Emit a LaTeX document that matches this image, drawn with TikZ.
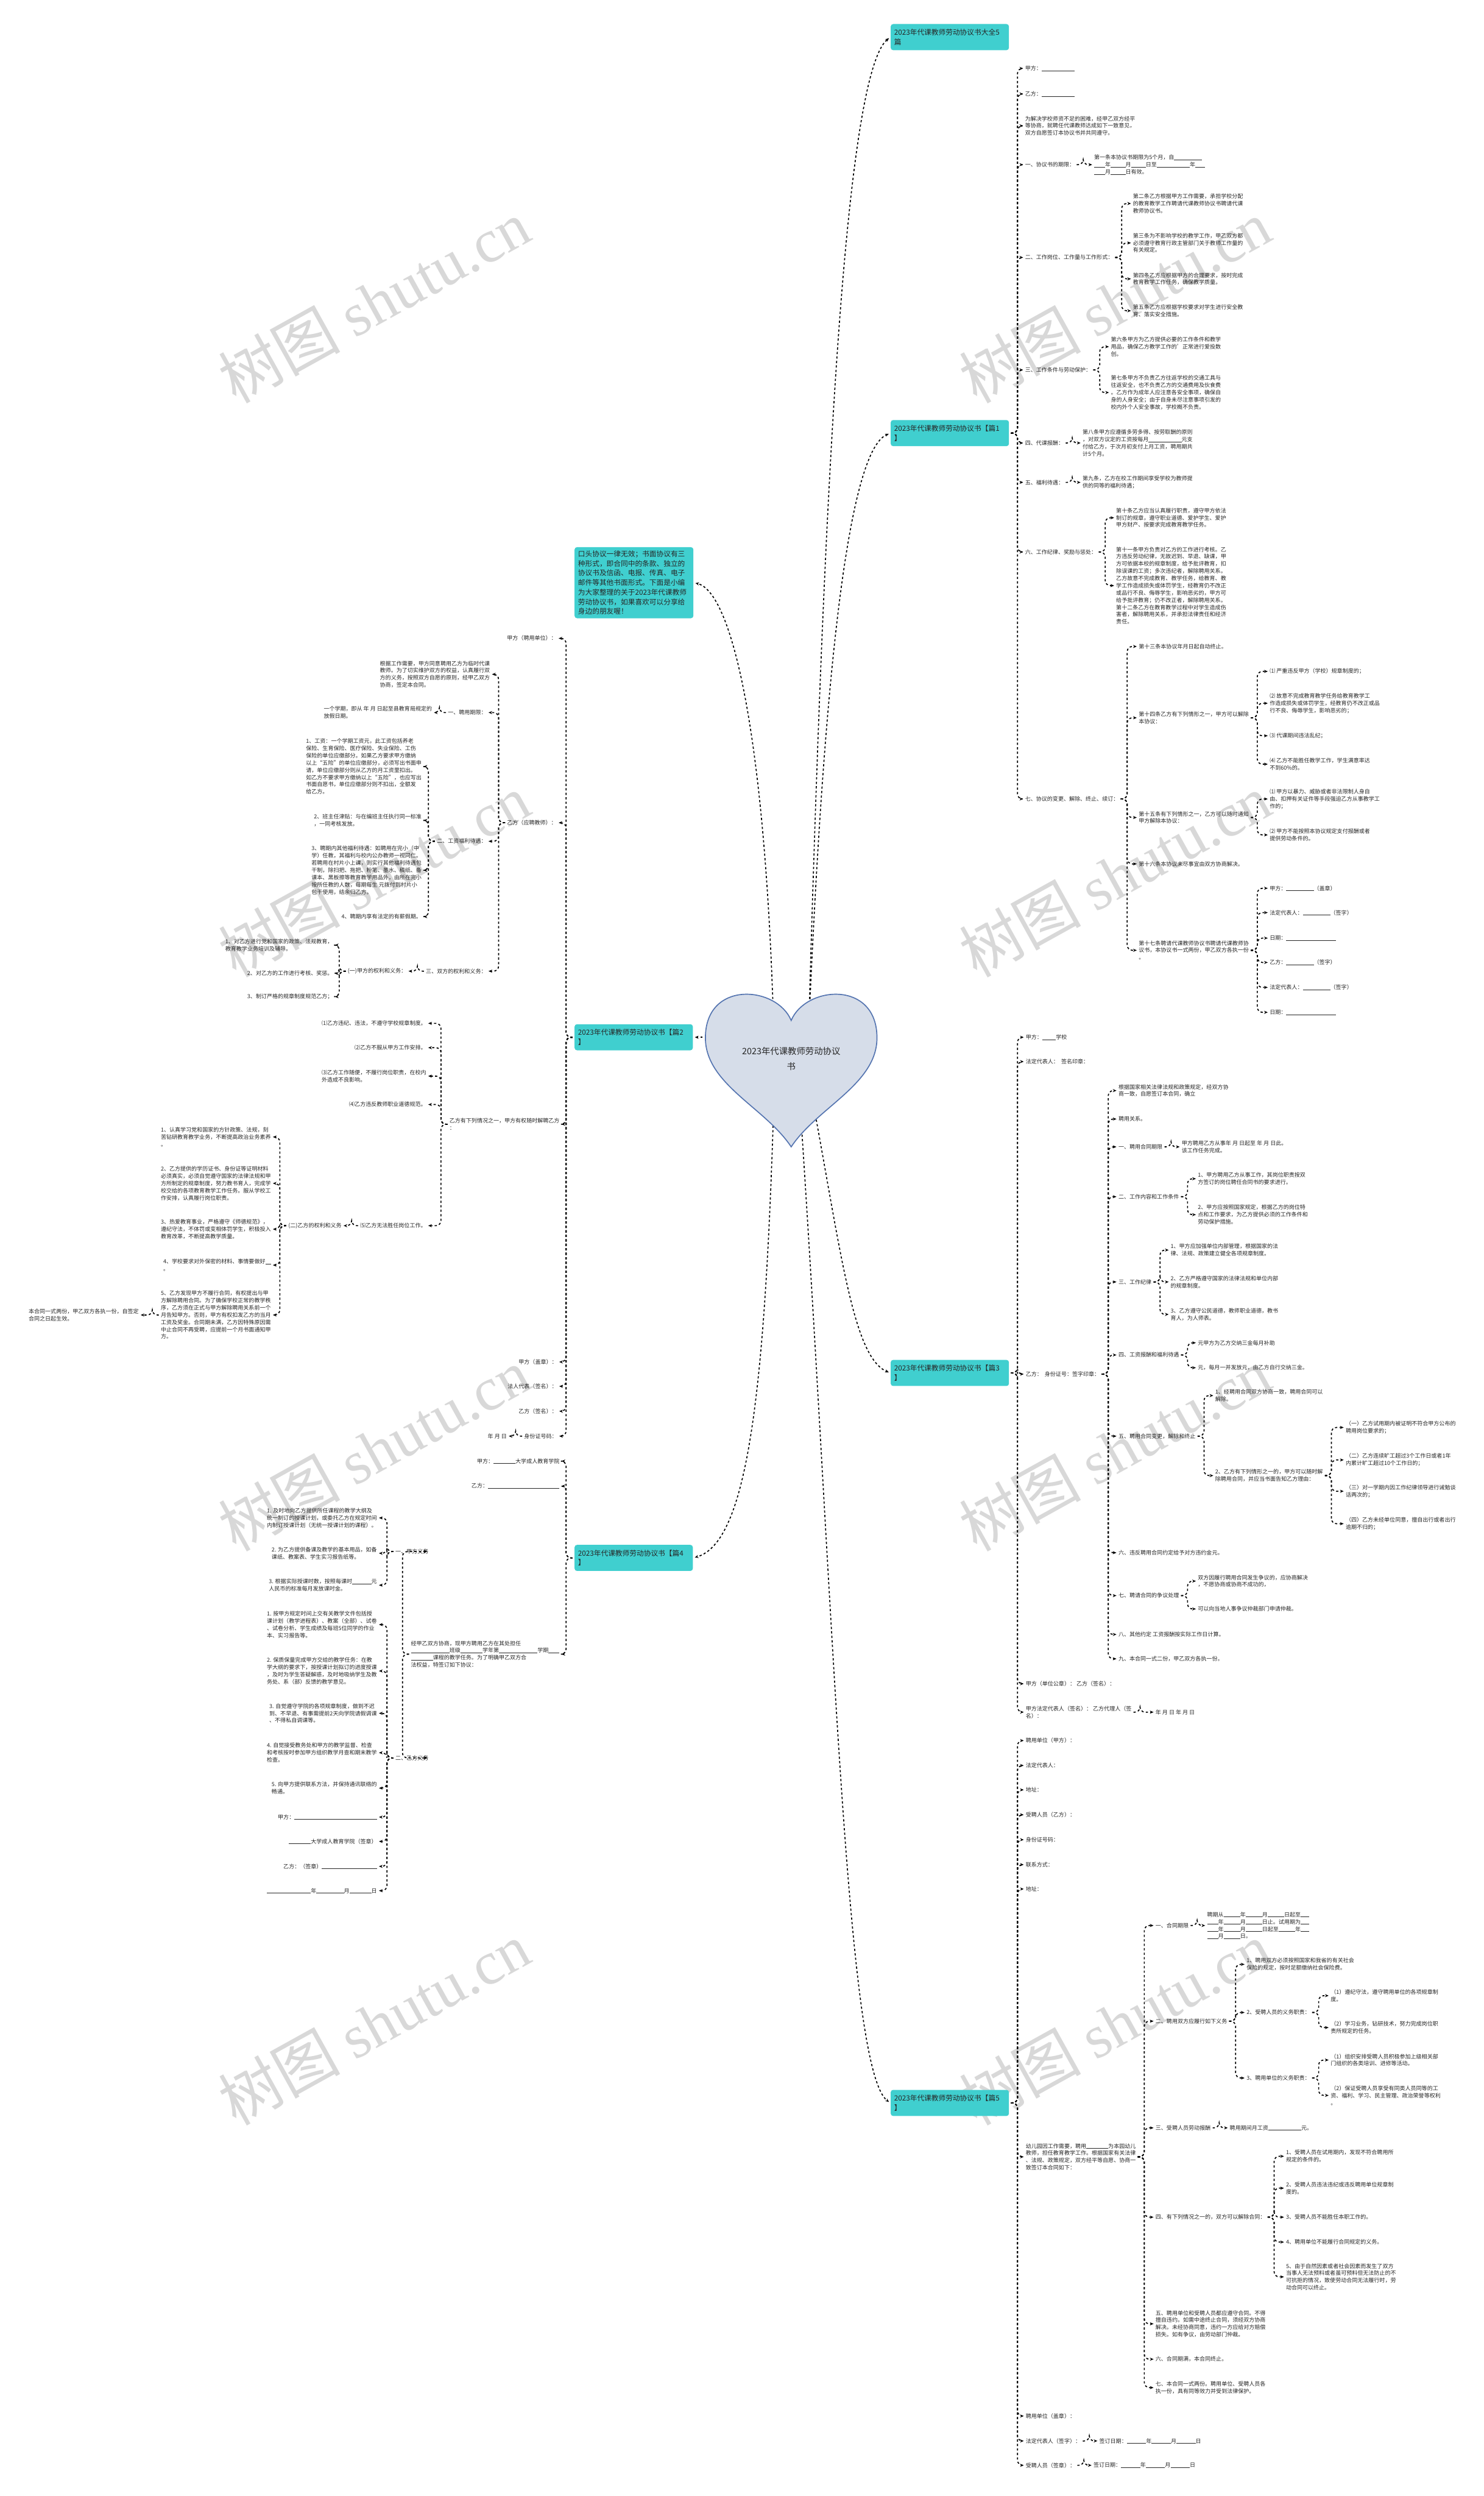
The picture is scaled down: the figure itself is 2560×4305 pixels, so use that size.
\documentclass[tikz,border=0pt]{standalone}
\usepackage{fontspec}
\setmainfont{Noto Sans CJK SC}
\newfontfamily\markfont{Liberation Serif}
\usepackage{tikz}
\usetikzlibrary{arrows.meta}

\definecolor{tealbox}{RGB}{64,207,207}
\definecolor{heartfill}{RGB}{214,221,233}
\definecolor{heartline}{RGB}{84,116,176}
\definecolor{inkdark}{RGB}{38,38,38}
\definecolor{markgray}{RGB}{216,216,216}

\newcommand{\tinyfs}{\fontsize{2.7pt}{3.55pt}\selectfont}
\newcommand{\boxfs}{\fontsize{3.5pt}{4.7pt}\selectfont}
\newcommand{\heartfs}{\fontsize{4.3pt}{7.6pt}\selectfont}
\newcommand{\markfs}{\fontsize{30pt}{30pt}\selectfont}
\newcommand{\blank}[1]{\rule[-0.1em]{#1em}{0.25pt}}

\begin{document}
\begin{tikzpicture}[x=0.1mm, y=-0.1mm,
  sect/.style={rectangle, rounded corners=1.2pt, fill=tealbox, text=inkdark, font=\boxfs,
               align=left, text width=19.2mm, minimum height=4.5mm, inner xsep=0.6mm, inner ysep=0.6mm},
  txt/.style={font=\tinyfs, text=inkdark, align=left, inner xsep=0pt, inner ysep=0.4pt},
  heartlbl/.style={font=\heartfs, text=inkdark, align=center},
  wmark/.style={font=\markfs, text=markgray, rotate=29},
  link/.style={-{Stealth[length=1.8pt, width=1.5pt]}, black, line width=0.5pt,
               dash pattern=on 1.1pt off 1.1pt, rounded corners=2.5pt,
               shorten <=0.8pt, shorten >=0.8pt},
  tor/.style={link, to path={-- ++(14,0) |- (\tikztotarget)}},
  tol/.style={link, to path={-- ++(-14,0) |- (\tikztotarget)}},
]
\fill[white] (0,0) rectangle (2560,4305);
\useasboundingbox (0,0) rectangle (2560,4305);

\node[wmark] at (645,520)   {树图 {\markfont shutu.cn}};
\node[wmark] at (1923,520)  {树图 {\markfont shutu.cn}};
\node[wmark] at (645,1510)  {树图 {\markfont shutu.cn}};
\node[wmark] at (1923,1510) {树图 {\markfont shutu.cn}};
\node[wmark] at (645,2500)  {树图 {\markfont shutu.cn}};
\node[wmark] at (1923,2500) {树图 {\markfont shutu.cn}};
\node[wmark] at (645,3490)  {树图 {\markfont shutu.cn}};
\node[wmark] at (1923,3490) {树图 {\markfont shutu.cn}};

\node[sect, anchor=west] (top)  at (1536,64)   {2023年代课教师劳动协议书大全5\\篇};
\node[sect, anchor=west] (art1) at (1536,747)  {2023年代课教师劳动协议书【篇1\\】};
\node[sect, anchor=west] (art3) at (1536,2368) {2023年代课教师劳动协议书【篇3\\】};
\node[sect, anchor=west] (art5) at (1536,3627) {2023年代课教师劳动协议书【篇5\\】};
\node[sect, anchor=east, text width=19.3mm] (intro) at (1197,1005)
  {口头协议一律无效；书面协议有三\\种形式，即合同中的条款、独立的\\协议书及信函、电报、传真、电子\\邮件等其他书面形式。下面是小编\\为大家整理的关于2023年代课教师\\劳动协议书，如果喜欢可以分享给\\身边的朋友喔！};
\node[sect, anchor=east] (art2) at (1196,1789) {2023年代课教师劳动协议书【篇2\\】};
\node[sect, anchor=east] (art4) at (1196,2687) {2023年代课教师劳动协议书【篇4\\】};

\draw[link] (1395,1780) .. controls (1420,900) and (1455,130) .. (top.west);
\draw[link] (1395,1780) .. controls (1420,1200) and (1460,780) .. (art1.west);
\draw[link] (1395,1860) .. controls (1450,2150) and (1470,2340) .. (art3.west);
\draw[link] (1380,1900) .. controls (1440,2800) and (1460,3570) .. (art5.west);
\draw[link] (1335,1780) .. controls (1320,1250) and (1260,1020) .. (intro.east);
\draw[link] (1300,1789) -- (art2.east);
\draw[link] (1335,1900) .. controls (1320,2400) and (1290,2660) .. (art4.east);

\draw[fill=heartfill, draw=heartline, line width=0.5pt]
  (1365,1760) .. controls (1390,1700) and (1513,1690) .. (1513,1790)
  .. controls (1513,1870) and (1410,1910) .. (1365,1978)
  .. controls (1320,1910) and (1217,1870) .. (1217,1790)
  .. controls (1217,1690) and (1340,1700) .. (1365,1760) -- cycle;
\node[heartlbl] (root) at (1365,1826) {2023年代课教师劳动协议\\书};

\node[txt, anchor=west] (a1)  at (1768,118) {甲方：\blank{6}};
\node[txt, anchor=west] (a2)  at (1768,162) {乙方：\blank{6}};
\node[txt, anchor=west] (a3)  at (1768,217) {为解决学校师资不足的困难，经甲乙双方经平\\等协商，就聘任代课教师达成如下一致意见，\\双方自愿签订本协议书并共同遵守。};
\node[txt, anchor=west] (a4)  at (1768,284) {一、协议书的期限：};
\node[txt, anchor=west] (a4a) at (1887,284) {第一条本协议书期限为5个月，自\blank{5}\\\blank{2}年\blank{2.7}月\blank{2.7}日至\blank{6}年\blank{1.8}\\\blank{2}月\blank{2.7}日有效。};
\node[txt, anchor=west] (a5)  at (1768,444) {二、工作岗位、工作量与工作形式：};
\node[txt, anchor=west] (a5a) at (1954,351) {第二条乙方根据甲方工作需要，承担学校分配\\的教育教学工作聘请代课教师协议书聘请代课\\教师协议书。};
\node[txt, anchor=west] (a5b) at (1954,419) {第三条为不影响学校的教学工作，甲乙双方都\\必须遵守教育行政主管部门关于教师工作量的\\有关规定。};
\node[txt, anchor=west] (a5c) at (1954,481) {第四条乙方应根据甲方的合理要求，按时完成\\教育教学工作任务，确保教学质量。};
\node[txt, anchor=west] (a5d) at (1954,536) {第五条乙方应根据学校要求对学生进行安全教\\育、落实安全措施。};
\node[txt, anchor=west] (a6)  at (1768,638) {三、工作条件与劳动保护：};
\node[txt, anchor=west] (a6a) at (1916,598) {第六条甲方为乙方提供必要的工作条件和教学\\用品，确保乙方教学工作的'正常进行爱投数\\创。};
\node[txt, anchor=west] (a6b) at (1916,677) {第七条甲方不负责乙方往返学校的交通工具与\\往返安全，也不负责乙方的交通费用及伙食费\\。乙方作为成年人应注意各安全事项，确保自\\身的人身安全；由于自身未尽注意事项引发的\\校内外个人安全事故，学校概不负责。};
\node[txt, anchor=west] (a7)  at (1768,764) {四、代课报酬：};
\node[txt, anchor=west] (a7a) at (1867,764) {第八条甲方应遵循多劳多得、按劳取酬的原则\\，对双方议定的工资按每月\blank{6}元支\\付给乙方，于次月初支付上月工资，聘用期共\\计5个月。};
\node[txt, anchor=west] (a8)  at (1768,832) {五、福利待遇：};
\node[txt, anchor=west] (a8a) at (1867,832) {第九条，乙方在校工作期间享受学校为教师提\\供的同等的福利待遇；};
\node[txt, anchor=west] (a9)  at (1768,952) {六、工作纪律、奖励与惩处：};
\node[txt, anchor=west] (a9a) at (1925,893) {第十条乙方应当认真履行职责，遵守甲方依法\\制订的规章，遵守职业道德、爱护学生、爱护\\甲方财产、按要求完成教育教学任务。};
\node[txt, anchor=west] (a9b) at (1925,1010) {第十一条甲方负责对乙方的工作进行考核。乙\\方违反劳动纪律，无故迟到、早退、缺课，甲\\方可依据本校的规章制度，给予批评教育，扣\\除误课的工资；多次违纪者，解除聘用关系。\\乙方故意不完成教育、教学任务，给教育、教\\学工作造成损失或体罚学生，经教育仍不改正\\或品行不良、侮辱学生，影响恶劣的，甲方可\\给予批评教育；仍不改正者，解除聘用关系。\\第十二条乙方在教育教学过程中对学生造成伤\\害者，解除聘用关系，并承担法律责任和经济\\责任。};
\node[txt, anchor=west] (a10) at (1768,1378) {七、协议的变更、解除、终止、续订：};
\node[txt, anchor=west] (b1)  at (1964,1115) {第十三条本协议年月日起自动终止。};
\node[txt, anchor=west] (b2)  at (1964,1238) {第十四条乙方有下列情形之一，甲方可以解除\\本协议：};
\node[txt, anchor=west] (c1)  at (2190,1158) {⑴ 严重违反甲方（学校）规章制度的；};
\node[txt, anchor=west] (c2)  at (2190,1213) {⑵ 故意不完成教育教学任务给教育教学工\\作造成损失或体罚学生，经教育仍不改正或品\\行不良、侮辱学生，影响恶劣的；};
\node[txt, anchor=west] (c3)  at (2190,1269) {⑶ 代课期间违法乱纪；};
\node[txt, anchor=west] (c4)  at (2190,1318) {⑷ 乙方不能胜任教学工作，学生满意率达\\不到60\%的。};
\node[txt, anchor=west] (b3)  at (1964,1410) {第十五条有下列情形之一，乙方可以随时通知\\甲方解除本协议：};
\node[txt, anchor=west] (c5)  at (2190,1378) {⑴ 甲方以暴力、威胁或者非法限制人身自\\由、扣押有关证件等手段强迫乙方从事教学工\\作的；};
\node[txt, anchor=west] (c6)  at (2190,1440) {⑵ 甲方不能按照本协议规定支付报酬或者\\提供劳动条件的。};
\node[txt, anchor=west] (b4)  at (1964,1490) {第十六条本协议未尽事宜由双方协商解决。};
\node[txt, anchor=west] (b5)  at (1964,1639) {第十七条聘请代课教师协议书聘请代课教师协\\议书，本协议书一式两份，甲乙双方各执一份\\。};
\node[txt, anchor=west] (d1)  at (2190,1532) {甲方：\blank{5}（盖章）};
\node[txt, anchor=west] (d2)  at (2190,1574) {法定代表人：\blank{5}（签字）};
\node[txt, anchor=west] (d3)  at (2190,1618) {日期：\blank{9}};
\node[txt, anchor=west] (d4)  at (2190,1660) {乙方：\blank{5}（签字）};
\node[txt, anchor=west] (d5)  at (2190,1703) {法定代表人：\blank{5}（签字）};
\node[txt, anchor=west] (d6)  at (2190,1746) {日期：\blank{9}};

\draw[tor] (art1.east) to (a1.west);
\draw[tor] (art1.east) to (a2.west);
\draw[tor] (art1.east) to (a3.west);
\draw[tor] (art1.east) to (a4.west);
\draw[tor] (art1.east) to (a5.west);
\draw[tor] (art1.east) to (a6.west);
\draw[tor] (art1.east) to (a7.west);
\draw[tor] (art1.east) to (a8.west);
\draw[tor] (art1.east) to (a9.west);
\draw[tor] (art1.east) to (a10.west);
\draw[tor] (a4.east) to (a4a.west);
\draw[tor] (a5.east) to (a5a.west);
\draw[tor] (a5.east) to (a5b.west);
\draw[tor] (a5.east) to (a5c.west);
\draw[tor] (a5.east) to (a5d.west);
\draw[tor] (a6.east) to (a6a.west);
\draw[tor] (a6.east) to (a6b.west);
\draw[tor] (a7.east) to (a7a.west);
\draw[tor] (a8.east) to (a8a.west);
\draw[tor] (a9.east) to (a9a.west);
\draw[tor] (a9.east) to (a9b.west);
\draw[tor] (a10.east) to (b1.west);
\draw[tor] (a10.east) to (b2.west);
\draw[tor] (a10.east) to (b3.west);
\draw[tor] (a10.east) to (b4.west);
\draw[tor] (a10.east) to (b5.west);
\draw[tor] (b2.east) to (c1.west);
\draw[tor] (b2.east) to (c2.west);
\draw[tor] (b2.east) to (c3.west);
\draw[tor] (b2.east) to (c4.west);
\draw[tor] (b3.east) to (c5.west);
\draw[tor] (b3.east) to (c6.west);
\draw[tor] (b5.east) to (d1.west);
\draw[tor] (b5.east) to (d2.west);
\draw[tor] (b5.east) to (d3.west);
\draw[tor] (b5.east) to (d4.west);
\draw[tor] (b5.east) to (d5.west);
\draw[tor] (b5.east) to (d6.west);

\node[txt, anchor=west] (e1)  at (1769,1789) {甲方：\blank{2.5}学校};
\node[txt, anchor=west] (e2)  at (1769,1831) {法定代表人：\ \ 签名印章：};
\node[txt, anchor=west] (e3)  at (1769,2370) {乙方：\ \ 身份证号：签字印章：};
\node[txt, anchor=west] (f1)  at (1929,1881) {根据国家相关法律法规和政策规定，经双方协\\商一致，自愿签订本合同，确立};
\node[txt, anchor=west] (f2)  at (1929,1930) {聘用关系。};
\node[txt, anchor=west] (f3)  at (1929,1978) {一、聘用合同期限};
\node[txt, anchor=west] (f3a) at (2038,1978) {甲方聘用乙方从事年\ 月\ 日起至\ 年\ 月\ 日此。\\该工作任务完成。};
\node[txt, anchor=west] (f4)  at (1929,2064) {二、工作内容和工作条件};
\node[txt, anchor=west] (f4a) at (2066,2033) {1、甲方聘用乙方从事工作，其岗位职责按双\\方签订的岗位聘任合同书的要求进行。};
\node[txt, anchor=west] (f4b) at (2066,2095) {2、甲方应按照国家规定，根据乙方的岗位特\\点和工作要求，为乙方提供必须的工作条件和\\劳动保护措施。};
\node[txt, anchor=west] (f5)  at (1929,2211) {三、工作纪律};
\node[txt, anchor=west] (f5a) at (2019,2156) {1、甲方应加强单位内部管理，根据国家的法\\律、法规、政策建立健全各项规章制度。};
\node[txt, anchor=west] (f5b) at (2019,2211) {2、乙方严格遵守国家的法律法规和单位内部\\的规章制度。};
\node[txt, anchor=west] (f5c) at (2019,2267) {3、乙方遵守公民道德，教师职业道德，教书\\育人，为人师表。};
\node[txt, anchor=west] (f6)  at (1929,2337) {四、工资报酬和福利待遇};
\node[txt, anchor=west] (f6a) at (2066,2316) {元甲方为乙方交纳三金每月补助};
\node[txt, anchor=west] (f6b) at (2066,2359) {元，每月一并发放元，由乙方自行交纳三金。};
\node[txt, anchor=west] (f7)  at (1929,2477) {五、聘用合同变更，解除和终止};
\node[txt, anchor=west] (f7a) at (2096,2407) {1、经聘用合同双方协商一致，聘用合同可以\\解除。};
\node[txt, anchor=west] (f7b) at (2096,2545) {2、乙方有下列情形之一的，甲方可以随时解\\除聘用合同，并应当书面告知乙方理由：};
\node[txt, anchor=west] (g1)  at (2321,2462) {（一）乙方试用期内被证明不符合甲方公布的\\聘用岗位要求的；};
\node[txt, anchor=west] (g2)  at (2321,2518) {（二）乙方连续旷工超过3个工作日或者1年\\内累计旷工超过10个工作日的；};
\node[txt, anchor=west] (g3)  at (2321,2572) {（三）对一学期内因工作纪律领导进行诫勉谈\\话两次的；};
\node[txt, anchor=west] (g4)  at (2321,2628) {（四）乙方未经单位同意，擅自出行或者出行\\逾期不归的；};
\node[txt, anchor=west] (f8)  at (1929,2678) {六、违反聘用合同约定给予对方违约金元。};
\node[txt, anchor=west] (f9)  at (1929,2752) {七、聘请合同的争议处理};
\node[txt, anchor=west] (f9a) at (2066,2727) {双方因履行聘用合同发生争议的，应协商解决\\，不愿协商或协商不成功的，};
\node[txt, anchor=west] (f9b) at (2066,2775) {可以向当地人事争议仲裁部门申请仲裁。};
\node[txt, anchor=west] (f10) at (1929,2819) {八、其他约定 工资报酬按实际工作日计算。};
\node[txt, anchor=west] (f11) at (1929,2861) {九、本合同一式二份，甲乙双方各执一份。};
\node[txt, anchor=west] (e4)  at (1769,2904) {甲方（单位公章）： 乙方（签名）：};
\node[txt, anchor=west] (e5)  at (1769,2953) {甲方法定代表人（签名）： 乙方代理人（签\\名）：};
\node[txt, anchor=west] (e5a) at (1993,2953) {年\ 月\ 日\ 年\ 月\ 日};

\draw[tor] (art3.east) to (e1.west);
\draw[tor] (art3.east) to (e2.west);
\draw[tor] (art3.east) to (e3.west);
\draw[tor] (art3.east) to (e4.west);
\draw[tor] (art3.east) to (e5.west);
\draw[tor] (e3.east) to (f1.west);
\draw[tor] (e3.east) to (f2.west);
\draw[tor] (e3.east) to (f3.west);
\draw[tor] (e3.east) to (f4.west);
\draw[tor] (e3.east) to (f5.west);
\draw[tor] (e3.east) to (f6.west);
\draw[tor] (e3.east) to (f7.west);
\draw[tor] (e3.east) to (f8.west);
\draw[tor] (e3.east) to (f9.west);
\draw[tor] (e3.east) to (f10.west);
\draw[tor] (e3.east) to (f11.west);
\draw[tor] (f3.east) to (f3a.west);
\draw[tor] (f4.east) to (f4a.west);
\draw[tor] (f4.east) to (f4b.west);
\draw[tor] (f5.east) to (f5a.west);
\draw[tor] (f5.east) to (f5b.west);
\draw[tor] (f5.east) to (f5c.west);
\draw[tor] (f6.east) to (f6a.west);
\draw[tor] (f6.east) to (f6b.west);
\draw[tor] (f7.east) to (f7a.west);
\draw[tor] (f7.east) to (f7b.west);
\draw[tor] (f7b.east) to (g1.west);
\draw[tor] (f7b.east) to (g2.west);
\draw[tor] (f7b.east) to (g3.west);
\draw[tor] (f7b.east) to (g4.west);
\draw[tor] (f9.east) to (f9a.west);
\draw[tor] (f9.east) to (f9b.west);
\draw[tor] (e5.east) to (e5a.west);

\node[txt, anchor=west] (h1)  at (1769,3002) {聘用单位（甲方）：};
\node[txt, anchor=west] (h2)  at (1769,3045) {法定代表人：};
\node[txt, anchor=west] (h3)  at (1769,3087) {地址：};
\node[txt, anchor=west] (h4)  at (1769,3130) {受聘人员（乙方）：};
\node[txt, anchor=west] (h5)  at (1769,3173) {身份证号码：};
\node[txt, anchor=west] (h6)  at (1769,3216) {联系方式：};
\node[txt, anchor=west] (h7)  at (1769,3258) {地址：};
\node[txt, anchor=west] (h8)  at (1769,3720) {幼儿园因工作需要，聘用\blank{4}为本园幼儿\\教师，担任教育教学工作。根据国家有关法律\\、法规、政策规定，双方经平等自愿、协商一\\致签订本合同如下：};
\node[txt, anchor=west] (i1)  at (1993,3321) {一、合同期限};
\node[txt, anchor=west] (i1a) at (2082,3321) {聘期从\blank{3}年\blank{3}月\blank{3}日起至\blank{1.5}\\\blank{2}年\blank{3}月\blank{3}日止。试用期为\blank{1.5}\\\blank{2}年\blank{3}月\blank{3}日起至\blank{3}年\blank{1.5}\\\blank{2}月\blank{3}日。};
\node[txt, anchor=west] (i2)  at (1993,3486) {二、聘用双方应履行如下义务};
\node[txt, anchor=west] (i2a) at (2150,3388) {1、聘用双方必须按照国家和我省的有关社会\\保险的规定，按时足额缴纳社会保险费。};
\node[txt, anchor=west] (i2b) at (2150,3471) {2、受聘人员的义务职责：};
\node[txt, anchor=west] (j1)  at (2295,3442) {（1）遵纪守法，遵守聘用单位的各项规章制\\度。};
\node[txt, anchor=west] (j2)  at (2295,3497) {（2）学习业务，钻研技术，努力完成岗位职\\责所规定的任务。};
\node[txt, anchor=west] (i2c) at (2150,3584) {3、聘用单位的义务职责：};
\node[txt, anchor=west] (j3)  at (2295,3553) {（1）组织安排受聘人员积极参加上级相关部\\门组织的各类培训、进修等活动。};
\node[txt, anchor=west] (j4)  at (2295,3614) {（2）保证受聘人员享受有同类人员同等的工\\资、福利、学习、民主管理、政治荣誉等权利\\。};
\node[txt, anchor=west] (i3)  at (1993,3670) {三、受聘人员劳动报酬};
\node[txt, anchor=west] (i3a) at (2121,3670) {聘用期间月工资\blank{6}元。};
\node[txt, anchor=west] (i4)  at (1993,3824) {四、有下列情况之一的，双方可以解除合同：};
\node[txt, anchor=west] (k1)  at (2218,3719) {1、受聘人员在试用期内，发现不符合聘用所\\规定的条件的。};
\node[txt, anchor=west] (k2)  at (2218,3774) {2、受聘人员违法违纪或违反聘用单位规章制\\度的。};
\node[txt, anchor=west] (k3)  at (2218,3824) {3、受聘人员不能胜任本职工作的。};
\node[txt, anchor=west] (k4)  at (2218,3867) {4、聘用单位不能履行合同规定的义务。};
\node[txt, anchor=west] (k5)  at (2218,3927) {5、由于自然因素或者社会因素而发生了双方\\当事人无法预料或者虽可预料但无法防止的不\\可抗拒的情况，致使劳动合同无法履行时，劳\\动合同可以终止。};
\node[txt, anchor=west] (i5)  at (1993,4008) {五、聘用单位和受聘人员都应遵守合同。不得\\擅自违约。如需中途终止合同，须经双方协商\\解决。未经协商同意，违约一方应给对方赔偿\\损失。如有争议，由劳动部门仲裁。};
\node[txt, anchor=west] (i6)  at (1993,4069) {六、合同期满，本合同终止。};
\node[txt, anchor=west] (i7)  at (1993,4118) {七、本合同一式两份。聘用单位、受聘人员各\\执一份，具有同等效力并受到法律保护。};
\node[txt, anchor=west] (h9)  at (1769,4167) {聘用单位（盖章）：};
\node[txt, anchor=west] (h10) at (1769,4210) {法定代表人（签字）：};
\node[txt, anchor=west] (h10a) at (1896,4210) {签订日期：\blank{3.5}年\blank{3.5}月\blank{3.5}日};
\node[txt, anchor=west] (h11) at (1769,4252) {受聘人员（签章）：};
\node[txt, anchor=west] (h11a) at (1886,4252) {签订日期：\blank{3.5}年\blank{3.5}月\blank{3.5}日};

\draw[tor] (art5.east) to (h1.west);
\draw[tor] (art5.east) to (h2.west);
\draw[tor] (art5.east) to (h3.west);
\draw[tor] (art5.east) to (h4.west);
\draw[tor] (art5.east) to (h5.west);
\draw[tor] (art5.east) to (h6.west);
\draw[tor] (art5.east) to (h7.west);
\draw[tor] (art5.east) to (h8.west);
\draw[tor] (art5.east) to (h9.west);
\draw[tor] (art5.east) to (h10.west);
\draw[tor] (art5.east) to (h11.west);
\draw[tor] (h8.east) to (i1.west);
\draw[tor] (h8.east) to (i2.west);
\draw[tor] (h8.east) to (i3.west);
\draw[tor] (h8.east) to (i4.west);
\draw[tor] (h8.east) to (i5.west);
\draw[tor] (h8.east) to (i6.west);
\draw[tor] (h8.east) to (i7.west);
\draw[tor] (i1.east) to (i1a.west);
\draw[tor] (i2.east) to (i2a.west);
\draw[tor] (i2.east) to (i2b.west);
\draw[tor] (i2.east) to (i2c.west);
\draw[tor] (i2b.east) to (j1.west);
\draw[tor] (i2b.east) to (j2.west);
\draw[tor] (i2c.east) to (j3.west);
\draw[tor] (i2c.east) to (j4.west);
\draw[tor] (i3.east) to (i3a.west);
\draw[tor] (i4.east) to (k1.west);
\draw[tor] (i4.east) to (k2.west);
\draw[tor] (i4.east) to (k3.west);
\draw[tor] (i4.east) to (k4.west);
\draw[tor] (i4.east) to (k5.west);
\draw[tor] (h10.east) to (h10a.west);
\draw[tor] (h11.east) to (h11a.west);

\node[txt, anchor=east] (m1)  at (961,1101) {甲方（聘用单位）：};
\node[txt, anchor=east] (m2)  at (961,1419) {乙方（应聘教师）：};
\node[txt, anchor=east] (n1)  at (846,1163) {根据工作需要，甲方同意聘用乙方为临时代课\\教师。为了切实维护双方的权益，认真履行双\\方的义务，按照双方自愿的原则，经甲乙双方\\协商，签定本合同。};
\node[txt, anchor=east] (n2)  at (840,1229) {一、聘用期限：};
\node[txt, anchor=east] (n2a) at (746,1229) {一个学期，即从\ 年\ 月\ 日起至县教育局规定的\\放假日期。};
\node[txt, anchor=east] (n3)  at (840,1451) {二、工资福利待遇：};
\node[txt, anchor=east] (n3a) at (728,1322) {1、工资：一个学期工资元，此工资包括养老\\保险、生育保险、医疗保险、失业保险、工伤\\保险的单位应缴部分。如果乙方要求甲方缴纳\\以上“五险”的单位应缴部分，必须写出书面申\\请，单位应缴部分则从乙方的月工资里扣出。\\如乙方不要求甲方缴纳以上“五险”，也应写出\\书面自愿书，单位应缴部分则不扣出，全额发\\给乙方。};
\node[txt, anchor=east] (n3b) at (728,1415) {2、班主任津贴：与在编班主任执行同一标准\\，一同考核发放。};
\node[txt, anchor=east] (n3c) at (728,1501) {3、聘期内其他福利待遇：如聘用在完小（中\\学）任教，其福利与校内公办教师一视同仁。\\若聘用在村片小上课，则实行其他福利待遇包\\干制，除扫把、拖把、粉笔、墨水、稿纸、备\\课本、黑板擦等教育教学用品外，由所在完小\\按所任教的人数，每期每生\ 元拨付到村片小\\包干使用，结余归乙方。};
\node[txt, anchor=east] (n3d) at (728,1581) {4、聘期内享有法定的有薪假期。};
\node[txt, anchor=east] (n4)  at (840,1675) {三、双方的权利和义务：};
\node[txt, anchor=east] (n4a) at (702,1675) {(一)甲方的权利和义务：};
\node[txt, anchor=east] (o1)  at (575,1630) {1、对乙方进行党和国家的政策、法规教育，\\教育教学业务培训及辅导。};
\node[txt, anchor=east] (o2)  at (575,1679) {2、对乙方的工作进行考核、奖惩。};
\node[txt, anchor=east] (o3)  at (575,1719) {3、制订严格的规章制度规范乙方；};
\node[txt, anchor=east] (m3)  at (966,1939) {乙方有下列情况之一，甲方有权随时解聘乙方\\：};
\node[txt, anchor=east] (q1)  at (736,1765) {⑴乙方违纪、违法，不遵守学校规章制度。};
\node[txt, anchor=east] (q2)  at (736,1807) {⑵乙方不服从甲方工作安排。};
\node[txt, anchor=east] (q3)  at (736,1856) {⑶乙方工作随便，不履行岗位职责，在校内\\外造成不良影响。};
\node[txt, anchor=east] (q4)  at (736,1905) {⑷乙方违反教师职业道德规范。};
\node[txt, anchor=east] (q5)  at (736,2114) {⑸乙方无法胜任岗位工作。};
\node[txt, anchor=east] (q5a) at (590,2114) {(二)乙方的权利和义务};
\node[txt, anchor=east] (r1)  at (468,1961) {1、认真学习党和国家的方针政策、法规，刻\\苦钻研教育教学业务，不断提高政治业务素养\\。};
\node[txt, anchor=east] (r2)  at (468,2041) {2、乙方提供的学历证书、身份证等证明材料\\必须真实，必须自觉遵守国家的法律法规和甲\\方所制定的规章制度，努力教书育人，完成学\\校交给的各项教育教学工作任务。服从学校工\\作安排，认真履行岗位职责。};
\node[txt, anchor=east] (r3)  at (468,2120) {3、热爱教育事业，严格遵守《师德规范》，\\遵纪守法，不体罚或变相体罚学生，积极投入\\教育改革，不断提高教学质量。};
\node[txt, anchor=east] (r4)  at (468,2182) {4、学校要求对外保密的材料、事情要做好\blank{1}\\。};
\node[txt, anchor=east] (r5)  at (468,2268) {5、乙方发现甲方不履行合同，有权提出与甲\\方解除聘用合同。为了确保学校正常的教学秩\\序，乙方须在正式与甲方解除聘用关系前一个\\月告知甲方。否则，甲方有权扣发乙方的当月\\工资及奖金。合同期未满，乙方因特殊原因需\\中止合同不再受聘，应提前一个月书面通知甲\\方。};
\node[txt, anchor=east] (r5a) at (240,2268) {本合同一式两份，甲乙双方各执一份，自签定\\合同之日起生效。};
\node[txt, anchor=east] (m4)  at (962,2349) {甲方（盖章）：};
\node[txt, anchor=east] (m5)  at (962,2391) {法人代表（签名）：};
\node[txt, anchor=east] (m6)  at (962,2434) {乙方（签名）：};
\node[txt, anchor=east] (m7)  at (962,2477) {身份证号码：};
\node[txt, anchor=east] (m7a) at (875,2477) {年\ 月\ 日};

\draw[tol] (art2.west) to (m1.east);
\draw[tol] (art2.west) to (m2.east);
\draw[tol] (art2.west) to (m3.east);
\draw[tol] (art2.west) to (m4.east);
\draw[tol] (art2.west) to (m5.east);
\draw[tol] (art2.west) to (m6.east);
\draw[tol] (art2.west) to (m7.east);
\draw[tol] (m2.west) to (n1.east);
\draw[tol] (m2.west) to (n2.east);
\draw[tol] (m2.west) to (n3.east);
\draw[tol] (m2.west) to (n4.east);
\draw[tol] (n2.west) to (n2a.east);
\draw[tol] (n3.west) to (n3a.east);
\draw[tol] (n3.west) to (n3b.east);
\draw[tol] (n3.west) to (n3c.east);
\draw[tol] (n3.west) to (n3d.east);
\draw[tol] (n4.west) to (n4a.east);
\draw[tol] (n4a.west) to (o1.east);
\draw[tol] (n4a.west) to (o2.east);
\draw[tol] (n4a.west) to (o3.east);
\draw[tol] (m3.west) to (q1.east);
\draw[tol] (m3.west) to (q2.east);
\draw[tol] (m3.west) to (q3.east);
\draw[tol] (m3.west) to (q4.east);
\draw[tol] (m3.west) to (q5.east);
\draw[tol] (q5.west) to (q5a.east);
\draw[tol] (q5a.west) to (r1.east);
\draw[tol] (q5a.west) to (r2.east);
\draw[tol] (q5a.west) to (r3.east);
\draw[tol] (q5a.west) to (r4.east);
\draw[tol] (q5a.west) to (r5.east);
\draw[tol] (r5.west) to (r5a.east);
\draw[tol] (m7.west) to (m7a.east);

\node[txt, anchor=east] (s1)  at (966,2520) {甲方：\blank{4}大学成人教育学院};
\node[txt, anchor=east] (s2)  at (966,2563) {乙方：\blank{13}};
\node[txt, anchor=east] (s3)  at (966,2853) {经甲乙双方协商，现甲方聘用乙方在其处担任\\\blank{7}班级\blank{4}学年第\blank{7}学期\blank{2}\\\blank{4}课程的教学任务。为了明确甲乙双方合\\法权益，特签订如下协议：};
\node[txt, anchor=east] (t1)  at (740,2676) {一、甲方义务};
\node[txt, anchor=east] (u1)  at (651,2618) {1. 及时地向乙方提供所任课程的教学大纲及\\统一制订的授课计划，或委托乙方在规定时间\\内制订授课计划（无统一授课计划的课程）。};
\node[txt, anchor=east] (u2)  at (651,2679) {2. 为乙方提供备课及教学的基本用品，如备\\课纸、教案表、学生实习报告纸等。};
\node[txt, anchor=east] (u3)  at (651,2734) {3. 根据实际授课时数，按照每课时\blank{3.5}元\\人民币的标准每月发放课时金。};
\node[txt, anchor=east] (t2)  at (740,3032) {二、乙方义务};
\node[txt, anchor=east] (v1)  at (651,2802) {1. 按甲方规定时间上交有关教学文件包括授\\课计划（教学进程表）、教案（全部）、试卷\\、试卷分析、学生成绩及每班5位同学的作业\\本、实习报告等。};
\node[txt, anchor=east] (v2)  at (651,2882) {2. 保质保量完成甲方交给的教学任务：在教\\学大纲的要求下，按授课计划拟订的进度授课\\，及时为学生答疑解惑，及时地吸纳学生及教\\务处、系（部）反馈的教学意见。};
\node[txt, anchor=east] (v3)  at (651,2955) {3. 自觉遵守学院的各项规章制度，做到不迟\\到、不早退、有事需提前2天向学院请假调课\\、不得私自调课等。};
\node[txt, anchor=east] (v4)  at (651,3023) {4. 自觉接受教务处和甲方的教学监督、检查\\和考核按时参加甲方组织教学月查和期末教学\\检查。};
\node[txt, anchor=east] (v5)  at (651,3084) {5. 向甲方提供联系方法，并保持通讯联络的\\畅通。};
\node[txt, anchor=east] (v6)  at (651,3134) {甲方：\blank{15}};
\node[txt, anchor=east] (v7)  at (651,3176) {\blank{4}大学成人教育学院（签章）};
\node[txt, anchor=east] (v8)  at (651,3219) {乙方：（签章）\blank{10}};
\node[txt, anchor=east] (v9)  at (651,3261) {\blank{8}年\blank{5}月\blank{4}日};

\draw[tol] (art4.west) to (s1.east);
\draw[tol] (art4.west) to (s2.east);
\draw[tol] (art4.west) to (s3.east);
\draw[tol] (s3.west) to (t1.east);
\draw[tol] (s3.west) to (t2.east);
\draw[tol] (t1.west) to (u1.east);
\draw[tol] (t1.west) to (u2.east);
\draw[tol] (t1.west) to (u3.east);
\draw[tol] (t2.west) to (v1.east);
\draw[tol] (t2.west) to (v2.east);
\draw[tol] (t2.west) to (v3.east);
\draw[tol] (t2.west) to (v4.east);
\draw[tol] (t2.west) to (v5.east);
\draw[tol] (t2.west) to (v6.east);
\draw[tol] (t2.west) to (v7.east);
\draw[tol] (t2.west) to (v8.east);
\draw[tol] (t2.west) to (v9.east);
\end{tikzpicture}
\end{document}
